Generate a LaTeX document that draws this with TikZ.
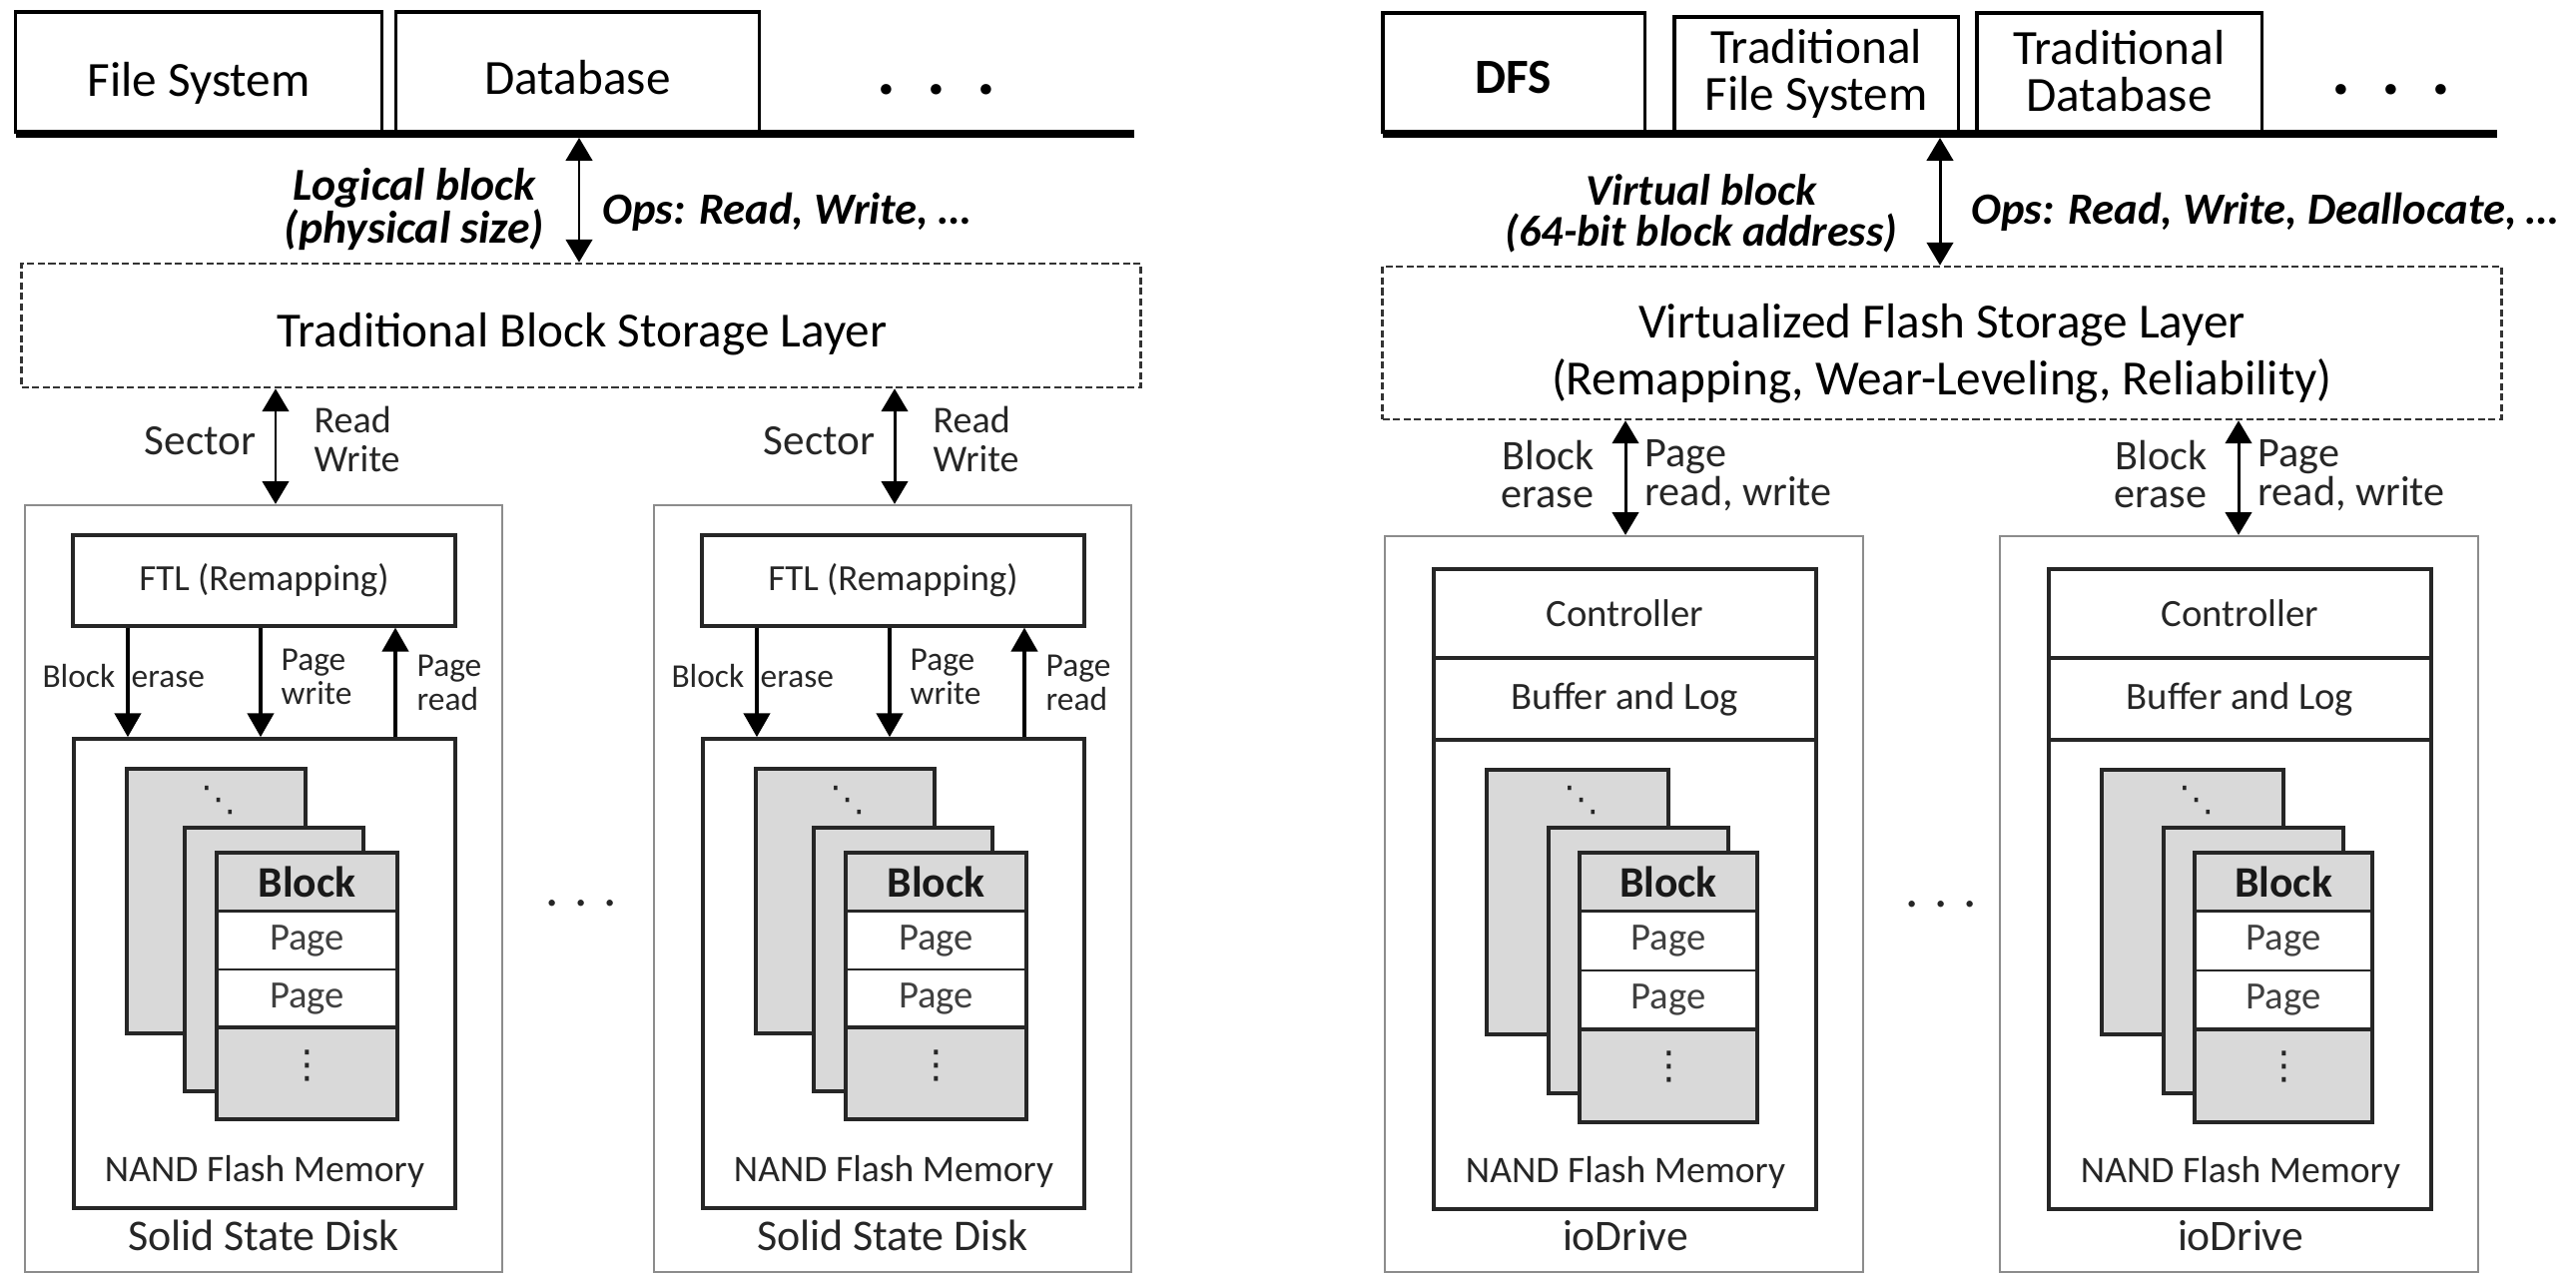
\documentclass[tikz,border=0pt]{standalone}
\usepackage{fontspec}
\setmainfont{Carlito}
\newfontfamily\dvs{DejaVu Sans}
\usetikzlibrary{arrows.meta}
\newcommand\fsz[2]{\fontsize{#1pt}{#2pt}\selectfont\lineskiplimit=-30pt\relax}
\begin{document}
\begin{tikzpicture}[x=0.01cm,y=-0.01cm,
  topbox/.style={draw=black, line width=0.9pt, fill=white, inner sep=0pt},
  dashbox/.style={draw=black!80, line width=0.7pt, dash pattern=on 2pt off 1pt, inner sep=0pt},
  outerbox/.style={draw=black!45, line width=0.5pt, fill=white, inner sep=0pt},
  unitbox/.style={draw=black!85, line width=0.95pt, fill=white, inner sep=0pt, text=black!85},
  cardbox/.style={draw=black!85, line width=0.9pt, fill=black!15, inner sep=0pt, text=black!90},
  pagebox/.style={draw=black!85, line width=0.6pt, fill=white, inner sep=0pt, text=black!75},
  framebox/.style={draw=black!85, line width=0.9pt, inner sep=0pt},
  txt/.style={inner sep=0pt},
  lbl/.style={inner sep=0pt, text=black!85},
  arr/.style={line width=0.95pt, -{Triangle[width=7.5pt,length=6.8pt]}},
  dbl/.style={line width=0.85pt, {Triangle[width=7.5pt,length=6.5pt]}-{Triangle[width=7.5pt,length=6.5pt]}},
]
\useasboundingbox (0,0) rectangle (2580,1276);

% ================= left: top =================
\node[topbox, minimum width=3.66cm, minimum height=1.20cm] (fs) at (199,72) {};
\node[txt, font=\fsz{14}{16}] (fst) at (199,83) {File System};
\node[topbox, minimum width=3.63cm, minimum height=1.20cm] (db) at (578.5,72) {};
\node[txt, font=\fsz{14}{16}] (dbt) at (578.5,78) {Database};
\coordinate (tlA) at (16,134);
\coordinate (tlB) at (1136,134);
\draw[line width=2.4pt] (tlA) -- (tlB);
\node[txt, font=\bfseries\fsz{20}{20}] (dotsA) at (938,90) {.\hspace{8.9pt}.\hspace{8.9pt}.};

\node[dashbox, minimum width=11.2cm, minimum height=1.24cm] (dashL) at (582,326) {};
\node[txt, font=\fsz{14}{16}] (dashLt) at (583,335) {Traditional Block Storage Layer};
\coordinate (aL) at (580,138);
\draw[dbl] (aL) -- (aL |- dashL.north);
\node[txt, align=center, font=\bfseries\itshape\fsz{13}{12.2}] (lblL) at (415,210) {Logical block\\(physical size)};
\node[txt, anchor=west, font=\bfseries\itshape\fsz{12.7}{14}] (opsL) at (603,212) {Ops: Read, Write, \dots};

% ================= left: SSDs =================
\foreach \i/\dx/\sx/\nm in {1/0/276/Solid State Disk, 2/630/896/Solid State Disk} {
  \node[outerbox, minimum width=4.78cm, minimum height=7.68cm] (ssd\i) at ({264+\dx},890) {};
  \node[unitbox, minimum width=3.83cm, minimum height=0.91cm, font=\fsz{10.5}{12}] (ftl\i) at ({264.5+\dx},581.5) {FTL (Remapping)};
  \node[unitbox, minimum width=3.82cm, minimum height=4.70cm] (nand\i) at ({265+\dx},975) {};
  \node[cardbox, minimum width=1.79cm, minimum height=2.65cm] (back\i) at ({216.5+\dx},902.5) {};
  \node[lbl, font=\dvs\fsz{10}{10}] (bdots\i) at ({219+\dx},802) {⋱};
  \node[cardbox, minimum width=1.79cm, minimum height=2.64cm] (mid\i) at ({274.5+\dx},961) {};
  \node[cardbox, minimum width=1.81cm, minimum height=0.59cm, font=\bfseries\fsz{12.4}{13}] (hdr\i) at ({307.5+\dx},883.5) {Block};
  \node[pagebox, minimum width=1.81cm, minimum height=0.58cm, font=\fsz{11}{12}] (pga\i) at ({307.5+\dx},942) {Page};
  \node[pagebox, minimum width=1.81cm, minimum height=0.58cm, font=\fsz{11}{12}] (pgb\i) at ({307.5+\dx},1000) {Page};
  \node[cardbox, minimum width=1.81cm, minimum height=0.92cm] (vd\i) at ({307.5+\dx},1075) {};
  \node[lbl, font=\dvs\fsz{11}{11}] (vdt\i) at ({308+\dx},1067) {⋮};
  \node[framebox, minimum width=1.81cm, minimum height=2.67cm] (front\i) at ({307.5+\dx},987.5) {};
  \node[lbl, font=\fsz{10.7}{12}] (nl\i) at ({265+\dx},1173) {NAND Flash Memory};
  \node[lbl, font=\fsz{12.5}{14}] (sl\i) at ({264+\dx},1237) {\nm};
  % internal arrows
  \coordinate (ex\i) at ({128+\dx},0);
  \coordinate (wx\i) at ({261+\dx},0);
  \coordinate (rx\i) at ({396+\dx},0);
  \draw[arr] (ftl\i.south -| ex\i) -- (nand\i.north -| ex\i);
  \draw[arr] (ftl\i.south -| wx\i) -- (nand\i.north -| wx\i);
  \draw[arr] (nand\i.north -| rx\i) -- (ftl\i.south -| rx\i);
  \node[lbl, anchor=base east, font=\fsz{9.5}{10}] (bk\i) at ({116+\dx},689) {Block};
  \node[lbl, anchor=base west, font=\fsz{9.5}{10}] (er\i) at ({131+\dx},689) {erase};
  \node[lbl, anchor=west, align=left, font=\fsz{9.5}{9.8}] (pw\i) at ({281+\dx},678) {Page\\write};
  \node[lbl, anchor=west, align=left, font=\fsz{9.5}{9.8}] (pr\i) at ({417+\dx},684) {Page\\read};
  % sector arrow
  \coordinate (sx\i) at (\sx,0);
  \draw[dbl] (dashL.south -| sx\i) -- (ssd\i.north -| sx\i);
  \node[lbl, anchor=east, font=\fsz{12.3}{13}] (sec\i) at ({\sx-19},442) {Sector};
  \node[lbl, anchor=west, align=left, font=\fsz{10.8}{10.9}] (rw\i) at ({\sx+38},440) {Read\\Write};
}
\node[lbl, font=\fsz{15}{15}] (dotsC) at (582,905) {. . .};

% ================= right: top =================
\node[topbox, minimum width=2.62cm, minimum height=1.19cm] (dfs) at (1516,72.5) {};
\node[txt, font=\bfseries\fsz{14}{16}] (dfst) at (1516,78) {DFS};
\node[topbox, minimum width=2.84cm, minimum height=1.15cm] (tfs) at (1819,74.5) {};
\node[txt, align=center, font=\fsz{14}{13.2}] (tfst) at (1819,74) {Traditional\\File System};
\node[topbox, minimum width=2.85cm, minimum height=1.19cm] (tdb) at (2122.5,72.5) {};
\node[txt, align=center, font=\fsz{14}{13.2}] (tdbt) at (2122.5,71) {Traditional\\Database};
\coordinate (trA) at (1385,134);
\coordinate (trB) at (2501,134);
\draw[line width=2.4pt] (trA) -- (trB);
\node[txt, font=\bfseries\fsz{20}{20}] (dotsB) at (2395,90) {.\hspace{8.9pt}.\hspace{8.9pt}.};

\node[dashbox, minimum width=11.2cm, minimum height=1.53cm] (dashR) at (1945,343.5) {};
\node[txt, align=center, font=\fsz{14}{16.4}] (dashRt) at (1945,354) {Virtualized Flash Storage Layer\\(Remapping, Wear-Leveling, Reliability)};
\coordinate (aR) at (1943,138);
\draw[dbl] (aR) -- (aR |- dashR.north);
\node[txt, align=center, font=\bfseries\itshape\fsz{12.5}{11.6}] (vblR) at (1704,214) {Virtual block\\(64-bit block address)};
\node[txt, anchor=west, font=\bfseries\itshape\fsz{12.7}{14}] (opsR) at (1974,212) {Ops: Read, Write, Deallocate, \dots};

% ================= right: ioDrives =================
\foreach \i/\dx/\ax in {1/0/1628, 2/616/2242} {
  \node[outerbox, minimum width=4.79cm, minimum height=7.37cm] (io\i) at ({1626.5+\dx},905.5) {};
  \node[unitbox, minimum width=3.83cm, minimum height=0.89cm, font=\fsz{11}{12}] (ctl\i) at ({1627.5+\dx},614.5) {Controller};
  \node[unitbox, minimum width=3.83cm, minimum height=0.82cm, font=\fsz{11}{12}] (buf\i) at ({1627.5+\dx},700) {Buffer and Log};
  \node[unitbox, minimum width=3.83cm, minimum height=4.70cm] (nio\i) at ({1627.5+\dx},976) {};
  \node[cardbox, minimum width=1.82cm, minimum height=2.65cm] (iback\i) at ({1580+\dx},903.5) {};
  \node[lbl, font=\dvs\fsz{10}{10}] (ibdots\i) at ({1584+\dx},802) {⋱};
  \node[cardbox, minimum width=1.80cm, minimum height=2.66cm] (imid\i) at ({1641+\dx},962) {};
  \node[cardbox, minimum width=1.78cm, minimum height=0.59cm, font=\bfseries\fsz{12.4}{13}] (ihdr\i) at ({1671+\dx},883.5) {Block};
  \node[pagebox, minimum width=1.78cm, minimum height=0.59cm, font=\fsz{11}{12}] (ipga\i) at ({1671+\dx},942.5) {Page};
  \node[pagebox, minimum width=1.78cm, minimum height=0.59cm, font=\fsz{11}{12}] (ipgb\i) at ({1671+\dx},1001.5) {Page};
  \node[cardbox, minimum width=1.78cm, minimum height=0.93cm] (ivd\i) at ({1671+\dx},1077.5) {};
  \node[lbl, font=\dvs\fsz{11}{11}] (ivdt\i) at ({1672+\dx},1068) {⋮};
  \node[framebox, minimum width=1.78cm, minimum height=2.70cm] (ifront\i) at ({1671+\dx},989) {};
  \node[lbl, font=\fsz{10.7}{12}] (inl\i) at ({1628+\dx},1174) {NAND Flash Memory};
  \node[lbl, font=\fsz{12.4}{14}] (iol\i) at ({1628+\dx},1238) {ioDrive};
  \coordinate (ix\i) at (\ax,0);
  \draw[dbl] (dashR.south -| ix\i) -- (io\i.north -| ix\i);
  \node[lbl, anchor=east, align=right, font=\fsz{12}{11}] (be\i) at ({\ax-31},475) {Block\\erase};
  \node[lbl, anchor=west, align=left, font=\fsz{12}{11}] (prw\i) at ({\ax+19},476) {Page\\read, write};
}
\node[lbl, font=\fsz{15}{15}] (dotsD) at (1944,906) {. . .};
\end{tikzpicture}
\end{document}
